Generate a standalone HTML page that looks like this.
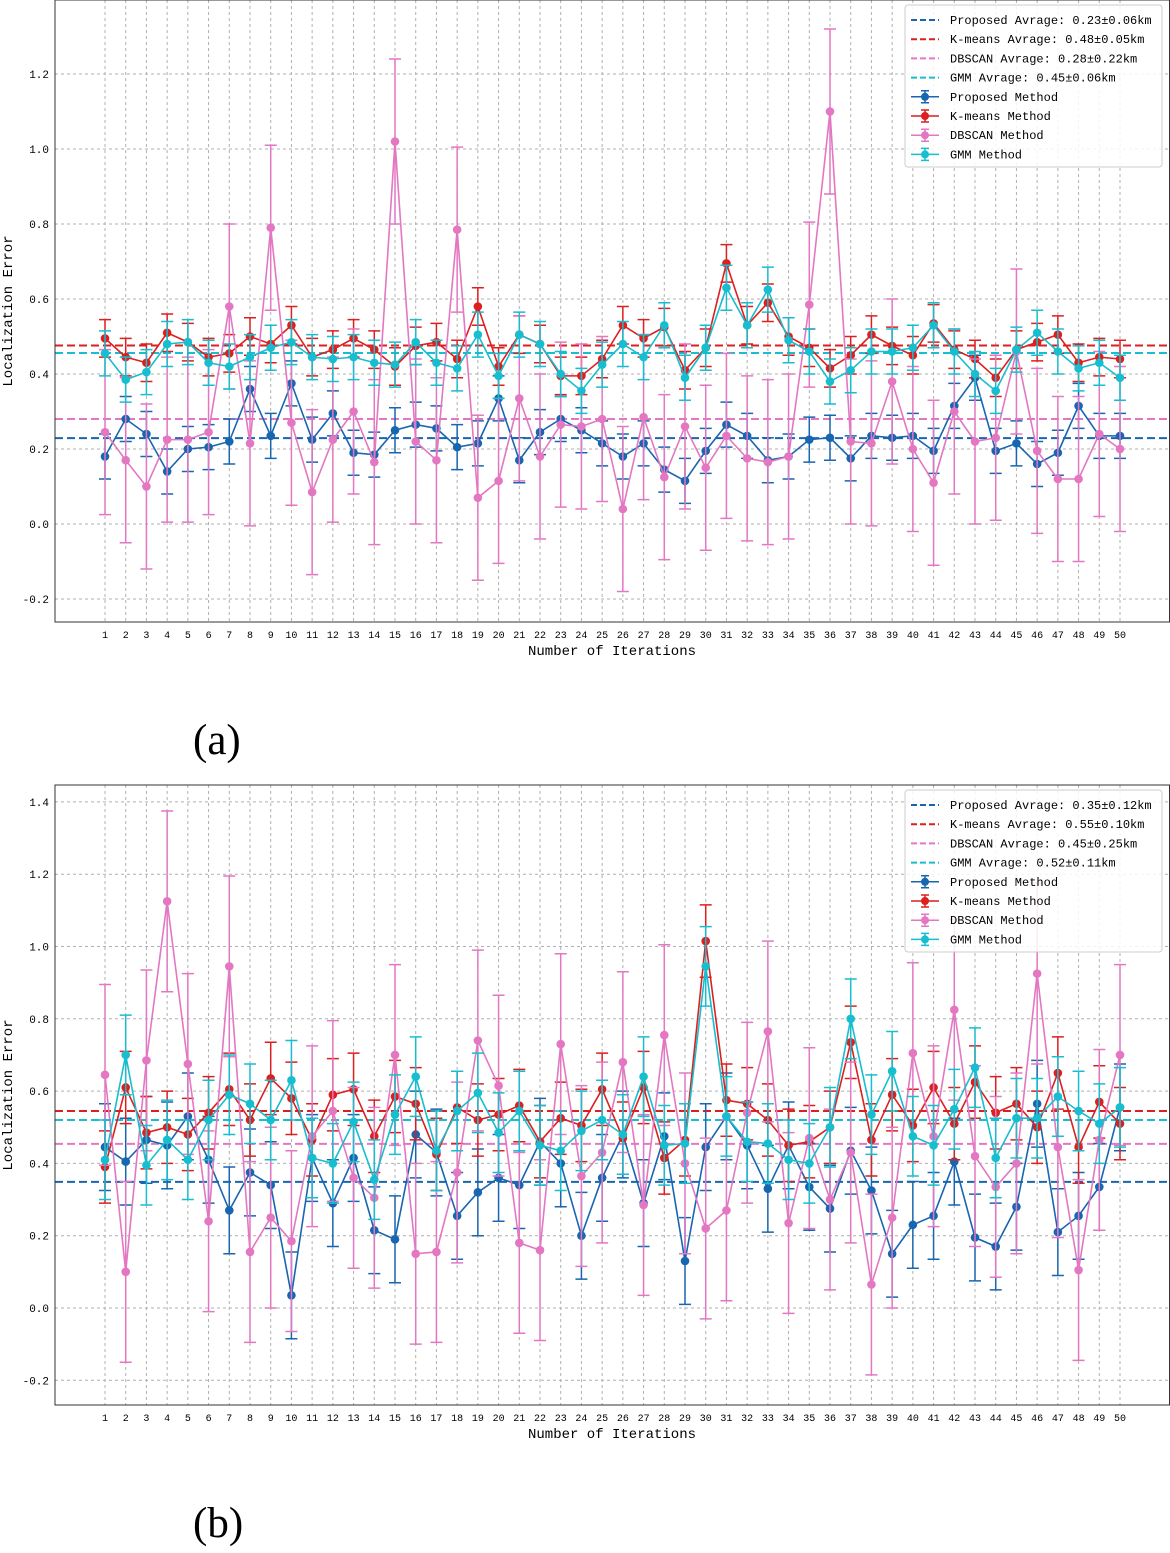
<!DOCTYPE html>
<html><head><meta charset="utf-8">
<style>
html,body{margin:0;padding:0;background:#fff;}
svg text{font-family:"Liberation Mono","DejaVu Sans Mono",monospace;}
</style></head>
<body>
<svg id="fig" width="1170" height="1548" viewBox="0 0 1170 1548" xmlns="http://www.w3.org/2000/svg"></svg>
<script>
const iterations = Array.from({length:50},(_,i)=>i+1);
// Panel (a)
const aProposed = [.18,.28,.24,.14,.20,.205,.22,.36,.235,.375,.225,.295,.19,.185,.25,.265,.255,.205,.215,.335,.17,.245,.28,.25,.215,.18,.215,.145,.115,.195,.265,.235,.17,.18,.225,.23,.175,.235,.23,.235,.195,.315,.39,.195,.215,.16,.19,.315,.235,.235];
const aKmeans = [.495,.445,.43,.51,.485,.445,.455,.50,.48,.53,.445,.465,.495,.465,.42,.475,.485,.44,.58,.42,.505,.48,.395,.395,.44,.53,.495,.525,.41,.47,.695,.53,.59,.50,.47,.415,.45,.505,.475,.45,.535,.465,.44,.39,.465,.485,.505,.43,.445,.44];
const aDbscan = [.245,.17,.10,.225,.225,.245,.58,.215,.79,.27,.085,.225,.30,.165,1.02,.22,.17,.785,.07,.115,.335,.18,.265,.26,.28,.04,.285,.125,.26,.15,.235,.175,.165,.18,.585,1.10,.22,.215,.38,.20,.11,.30,.22,.23,.46,.195,.12,.12,.24,.20];
const aGmm = [.455,.385,.405,.48,.485,.43,.42,.445,.47,.485,.445,.44,.445,.43,.425,.485,.43,.415,.505,.395,.505,.48,.40,.355,.425,.48,.445,.53,.39,.47,.63,.53,.625,.49,.46,.38,.41,.46,.46,.47,.53,.46,.40,.355,.465,.51,.46,.415,.43,.39];
const aMeans = [0.229,0.476,0.28,0.456];
const aErrs = [0.06,0.05,0.22,0.06];
const aLegend = ["Proposed Avrage: 0.23±0.06km","K-means Avrage: 0.48±0.05km","DBSCAN Avrage: 0.28±0.22km","GMM Avrage: 0.45±0.06km"];
// Panel (b)
const bProposed = [.445,.405,.465,.45,.53,.41,.27,.375,.34,.035,.415,.29,.415,.215,.19,.48,.43,.255,.32,.36,.34,.46,.40,.20,.36,.48,.29,.475,.13,.445,.53,.45,.33,.45,.335,.275,.435,.325,.15,.23,.255,.405,.195,.17,.28,.565,.21,.255,.335,.555];
const bKmeans = [.39,.61,.485,.50,.48,.54,.605,.52,.635,.58,.465,.59,.605,.475,.585,.565,.425,.555,.52,.535,.56,.46,.525,.505,.605,.47,.61,.415,.465,1.015,.575,.565,.52,.45,.46,.50,.735,.465,.59,.505,.61,.51,.625,.54,.565,.50,.65,.445,.57,.51];
const bDbscan = [.645,.10,.685,1.125,.675,.24,.945,.155,.25,.185,.475,.545,.36,.305,.70,.15,.155,.375,.74,.615,.18,.16,.73,.365,.43,.68,.285,.755,.40,.22,.27,.54,.765,.235,.47,.30,.43,.065,.25,.705,.475,.825,.42,.335,.40,.925,.445,.105,.465,.70];
const bGmm = [.41,.70,.395,.465,.41,.52,.59,.565,.52,.63,.415,.40,.515,.355,.535,.64,.435,.545,.595,.485,.545,.45,.435,.49,.52,.48,.64,.45,.455,.945,.53,.46,.455,.41,.40,.50,.80,.535,.655,.475,.45,.55,.665,.415,.525,.525,.585,.545,.51,.555];
const bMeans = [0.349,0.545,0.454,0.52];
const bErrs = [0.12,0.10,0.25,0.11];
const bLegend = ["Proposed Avrage: 0.35±0.12km","K-means Avrage: 0.55±0.10km","DBSCAN Avrage: 0.45±0.25km","GMM Avrage: 0.52±0.11km"];
const methodNames = ["Proposed Method","K-means Method","DBSCAN Method","GMM Method"];
const aTicks = [-0.2,0,0.2,0.4,0.6,0.8,1.0,1.2];
const bTicks = [-0.2,0,0.2,0.4,0.6,0.8,1.0,1.2,1.4];

const colors = ["#1865b0","#dc1f1f","#e377c2","#17becf"];
const NS = "http://www.w3.org/2000/svg";
const svg = document.getElementById('fig');
function mk(tag, attrs, parent){
  const e = document.createElementNS(NS, tag);
  for (const k in attrs) e.setAttribute(k, attrs[k]);
  (parent||svg).appendChild(e);
  return e;
}

function panel(id, top, bottom, y0, ppu, series, means, errs, legendTexts, ticks, letter, letterY){
  const g = mk('g', {});
  
  
  const L = 55, R = 1170;
  const x = i => 105 + (i-1) * (1015/49);
  const y = v => y0 - v * ppu;
  iterations.forEach(i => {
    const l = mk('line', {x1:x(i), x2:x(i), y1:top, y2:bottom, stroke:'#b0b0b0', 'stroke-width':1, 'stroke-dasharray':'3,3'}, g);
    
    
    const t = mk('text', {x:x(i), y:bottom+16, 'font-size':10, 'text-anchor':'middle', fill:'#000'}, g);
    t.textContent = i;
    
    
  });
  ticks.forEach(v => {
    const l = mk('line', {x1:L, x2:R, y1:y(v), y2:y(v), stroke:'#b0b0b0', 'stroke-width':1, 'stroke-dasharray':'3,3'}, g);
    
    
    const t = mk('text', {x:L-6, y:y(v)+4, 'font-size':11, 'text-anchor':'end', fill:'#000'}, g);
    t.textContent = v.toFixed(1);
    
    
  });
  means.forEach((m, k) => {
    const l = mk('line', {x1:L, x2:R, y1:y(m), y2:y(m), stroke:colors[k], 'stroke-width':2, 'stroke-dasharray':'8,4'}, g);
    
    
  });
  series.forEach((vals, k) => {
    const sg = mk('g', {}, g);
    
    
    const e = errs[k];
    vals.forEach((v, i) => {
      const xi = x(i+1);
      const eb = mk('path', {d:`M${xi},${y(v-e)}V${y(v+e)}M${xi-6},${y(v-e)}h12M${xi-6},${y(v+e)}h12`, stroke:colors[k], 'stroke-width':1.5, fill:'none'}, sg);
      
      
    });
    const pl = mk('polyline', {points: vals.map((v,i)=>x(i+1)+','+y(v)).join(' '), fill:'none', stroke:colors[k], 'stroke-width':1.6}, sg);
    
    
    vals.forEach((v, i) => {
      const c = mk('circle', {cx:x(i+1), cy:y(v), r:4.3, fill:colors[k]}, sg);
      
      
    });
  });
  const fr = mk('rect', {x:L, y:top, width:R-L-0.5, height:bottom-top, fill:'none', stroke:'#333', 'stroke-width':1}, g);
  
  
  const lg = mk('g', {}, g);
  
  
  const lr = mk('rect', {x:905, y:top+5, width:257, height:162, fill:'#fff', 'fill-opacity':0.85, stroke:'#ccc', rx:3}, lg);
  
  
  const labels = legendTexts.concat(methodNames);
  labels.forEach((txt, j) => {
    const k = j % 4;
    const ly = top + 20 + j*19.2;
    if (j < 4) {
      const s = mk('line', {x1:911, x2:939, y1:ly, y2:ly, stroke:colors[k], 'stroke-width':2, 'stroke-dasharray':'6,3'}, lg);
      
      
    } else {
      const s = mk('path', {d:`M911,${ly}H939M925,${ly-6}V${ly+6}M921,${ly-6}h8M921,${ly+6}h8`, stroke:colors[k], 'stroke-width':1.5, fill:'none'}, lg);
      
      
      const c = mk('circle', {cx:925, cy:ly, r:4, fill:colors[k]}, lg);
      
      
    }
    const t = mk('text', {x:950, y:ly+4, 'font-size':12, fill:'#000'}, lg);
    t.textContent = txt;
    
    
  });
  const xt = mk('text', {x:612, y:bottom+33, 'font-size':14, 'text-anchor':'middle', fill:'#000'}, g);
  xt.textContent = 'Number of Iterations';
  
  
  const cy = (top+bottom)/2;
  const yt = mk('text', {x:12, y:cy, 'font-size':14, 'text-anchor':'middle', fill:'#000', transform:`rotate(-90 12 ${cy})`}, g);
  yt.textContent = 'Localization Error';
  
  
  const cap = mk('text', {x:193, y:letterY, 'font-size':43, fill:'#000', style:'font-family:"Liberation Serif",serif'}, g);
  cap.textContent = letter;
  
  
}

panel('panel-a', 0, 622, 524, 375, [aProposed,aKmeans,aDbscan,aGmm], aMeans, aErrs, aLegend, aTicks, '(a)', 754);
panel('panel-b', 785, 1405, 1308, 361.5, [bProposed,bKmeans,bDbscan,bGmm], bMeans, bErrs, bLegend, bTicks, '(b)', 1537);
</script>
</body></html>
